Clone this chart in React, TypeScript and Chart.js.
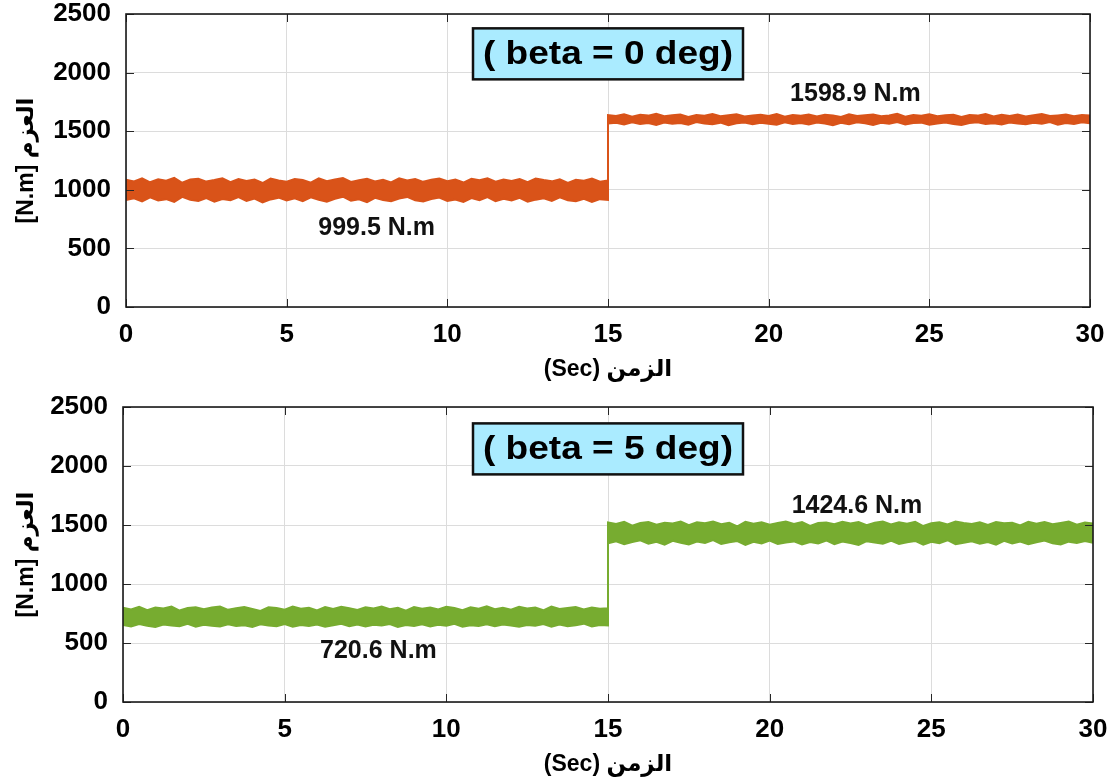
import React, { useEffect, useRef } from "react";
import { Chart, registerables } from "chart.js";

Chart.register(...registerables);

// ---------- data ----------
const xTickValues = [0, 5, 10, 15, 20, 25, 30];
const yTickValues = [0, 500, 1000, 1500, 2000, 2500];
const SAMPLE_STEP = 0.25; // seconds between read samples
const STEP_TIME = 15; // s, load step

// top plot (beta = 0 deg): upper / lower envelope of the noisy torque band
const topUpperBefore = [
  1085, 1072, 1098, 1064, 1090, 1078, 1101, 1060, 1088, 1095,
  1070, 1083, 1099, 1066, 1092, 1075, 1087, 1058, 1096, 1080,
  1069, 1093, 1084, 1061, 1097, 1074, 1089, 1100, 1067, 1082,
  1094, 1071, 1086, 1063, 1098, 1079, 1091, 1068, 1085, 1096,
  1073, 1088, 1062, 1094, 1081, 1099, 1070, 1087, 1076, 1092,
  1065, 1097, 1083, 1072, 1090, 1059, 1086, 1078, 1095, 1069,
  1080,
];
const topLowerBefore = [
  912, 928, 901, 935, 908, 920, 897, 940, 915, 904,
  930, 899, 922, 911, 938, 906, 925, 893, 918, 933,
  909, 927, 902, 936, 914, 898, 924, 941, 907, 919,
  895, 931, 913, 903, 926, 939, 910, 900, 921, 934,
  905, 917, 896, 929, 912, 937, 902, 923, 908, 932,
  899, 916, 927, 906, 935, 911, 903, 924, 897, 920,
  914,
];
const topUpperAfter = [
  1638, 1629, 1645, 1624, 1640, 1633, 1648, 1627, 1636, 1642,
  1622, 1639, 1631, 1646, 1628, 1637, 1644, 1625, 1634, 1641,
  1630, 1647, 1623, 1638, 1632, 1643, 1626, 1640, 1635, 1621,
  1645, 1629, 1637, 1642, 1627, 1634, 1648, 1624, 1639, 1631,
  1644, 1628, 1636, 1641, 1622, 1638, 1633, 1646, 1626, 1640,
  1630, 1643, 1625, 1637, 1647, 1629, 1635, 1642, 1627, 1639,
  1633,
];
const topLowerAfter = [
  1565, 1572, 1558, 1576, 1561, 1569, 1553, 1574, 1563, 1570,
  1556, 1578, 1566, 1560, 1573, 1552, 1568, 1575, 1559, 1571,
  1564, 1555, 1577, 1562, 1570, 1557, 1574, 1566, 1551, 1572,
  1560, 1576, 1567, 1554, 1571, 1563, 1578, 1558, 1569, 1573,
  1556, 1565, 1575, 1561, 1552, 1570, 1577, 1562, 1568, 1557,
  1574, 1566, 1559, 1572, 1563, 1579, 1555, 1569, 1561, 1576,
  1567,
];

// bottom plot (beta = 5 deg)
const bottomUpperBefore = [
  798, 785, 806, 779, 801, 792, 809, 775, 796, 803,
  787, 800, 810, 781, 794, 805, 789, 772, 802, 797,
  783, 808, 791, 799, 776, 804, 788, 807, 795, 780,
  802, 793, 809, 786, 798, 774, 805, 790, 801, 784,
  807, 796, 778, 803, 791, 810, 786, 799, 782, 806,
  793, 801, 777, 808, 789, 797, 804, 785, 800, 791,
  795,
];
const bottomLowerBefore = [
  652, 641, 660, 646, 636, 657, 649, 643, 662, 638,
  655, 647, 640, 659, 644, 651, 635, 658, 648, 642,
  661, 639, 653, 645, 657, 637, 650, 663, 643, 656,
  641, 654, 648, 660, 636, 652, 645, 659, 640, 655,
  647, 662, 638, 651, 644, 658, 642, 656, 649, 637,
  653, 646, 661, 639, 657, 643, 650, 664, 641, 652,
  648,
];
const bottomUpperAfter = [
  1522, 1508, 1528, 1495, 1517, 1526, 1503, 1520, 1512, 1529,
  1499, 1524, 1514, 1530, 1506, 1519, 1488, 1527, 1511, 1523,
  1502, 1518, 1529, 1509, 1525, 1493, 1516, 1521, 1507, 1528,
  1513, 1526, 1498, 1519, 1530, 1505, 1523, 1511, 1527, 1491,
  1515, 1524, 1504, 1529, 1517, 1508, 1522, 1500, 1526, 1514,
  1520, 1496, 1528, 1510, 1525, 1506, 1518, 1529, 1502, 1521,
  1512,
];
const bottomLowerAfter = [
  1345, 1362, 1338, 1355, 1370, 1341, 1358, 1334, 1366, 1349,
  1336, 1359, 1347, 1372, 1340, 1353, 1364, 1332, 1357, 1343,
  1368, 1339, 1351, 1361, 1335, 1356, 1344, 1369, 1337, 1360,
  1348, 1331, 1363, 1352, 1342, 1367, 1339, 1354, 1365, 1333,
  1358, 1346, 1371, 1338, 1350, 1362, 1341, 1356, 1334, 1366,
  1343, 1360, 1337, 1353, 1369, 1345, 1335, 1359, 1348, 1364,
  1350,
];

const topTitle = "( beta = 0 deg)";
const bottomTitle = "( beta = 5 deg)";
const topLabels = ["999.5 N.m", "1598.9 N.m"];
const bottomLabels = ["720.6 N.m", "1424.6 N.m"];
const xAxisTitle = "(Sec) الزمن";
const yAxisTitle = "[N.m] العزم";

// ---------- styling ----------
const FONT = "'Liberation Sans', Arial, 'DejaVu Sans', sans-serif";
const W = 1113;
const H = 391;

type Pt = { x: number; y: number };
function toPoints(before: number[], after: number[]): Pt[] {
  return [
    ...before.map((v, i) => ({ x: i * SAMPLE_STEP, y: v })),
    ...after.map((v, i) => ({ x: STEP_TIME + i * SAMPLE_STEP, y: v })),
  ];
}

type Spec = {
  upper: Pt[];
  lower: Pt[];
  color: string;
  title: string;
  labels: string[];
  labelPos: { x: number; y: number }[];
  boxPos: { x: number; y: number };
  yAxisWidth: number;
  xAxisHeight: number;
  padTop: number;
  padRight: number;
  xTitlePadBottom: number;
};

const decorPlugin = {
  id: "decor",
  afterDatasetsDraw(chart: any, _a: any, opts: any) {
    const { ctx, chartArea: ca, scales } = chart;
    const spec: Spec = opts.spec;
    ctx.save();
    // inner tick marks
    ctx.strokeStyle = "#262626";
    ctx.lineWidth = 1;
    const tl = 8;
    xTickValues.forEach((v) => {
      const px = Math.round(scales.x.getPixelForValue(v)) + 0.5;
      ctx.beginPath();
      ctx.moveTo(px, ca.bottom);
      ctx.lineTo(px, ca.bottom - tl);
      ctx.moveTo(px, ca.top);
      ctx.lineTo(px, ca.top + tl);
      ctx.stroke();
    });
    yTickValues.forEach((v) => {
      const py = Math.round(scales.y.getPixelForValue(v)) + 0.5;
      ctx.beginPath();
      ctx.moveTo(ca.left, py);
      ctx.lineTo(ca.left + tl, py);
      ctx.moveTo(ca.right, py);
      ctx.lineTo(ca.right - tl, py);
      ctx.stroke();
    });
    // frame
    ctx.lineWidth = 1.6;
    ctx.strokeStyle = "#1a1a1a";
    ctx.strokeRect(ca.left, ca.top, ca.right - ca.left, ca.bottom - ca.top);

    // value labels
    ctx.fillStyle = "#111";
    ctx.textAlign = "center";
    ctx.textBaseline = "middle";
    ctx.font = `bold 25px ${FONT}`;
    spec.labels.forEach((t, i) => {
      const p = spec.labelPos[i];
      ctx.fillText(t, scales.x.getPixelForValue(p.x), scales.y.getPixelForValue(p.y));
    });

    // title box
    const bx = scales.x.getPixelForValue(spec.boxPos.x);
    const by = scales.y.getPixelForValue(spec.boxPos.y);
    const bw = 270;
    const bh = 51;
    ctx.fillStyle = "#AAEBFF";
    ctx.fillRect(bx - bw / 2, by - bh / 2, bw, bh);
    ctx.lineWidth = 2.5;
    ctx.strokeStyle = "#111";
    ctx.strokeRect(bx - bw / 2, by - bh / 2, bw, bh);
    ctx.font = `bold 34px ${FONT}`;
    const w = ctx.measureText(spec.title).width;
    const sx = 250 / w;
    ctx.translate(bx, by + 1);
    ctx.scale(sx, 1);
    ctx.fillStyle = "#000";
    ctx.fillText(spec.title, 0, 0);
    ctx.restore();
  },
};

function makeConfig(spec: Spec): any {
  const tickFont = { size: 26, weight: "bold", family: FONT, lineHeight: 1.1 };
  const titleFont = { size: 23, weight: "bold", family: FONT };
  return {
    type: "line",
    data: {
      datasets: [
        {
          data: spec.upper,
          borderColor: spec.color,
          backgroundColor: spec.color,
          borderWidth: 2,
          pointRadius: 0,
          fill: false,
          tension: 0,
        },
        {
          data: spec.lower,
          borderColor: spec.color,
          backgroundColor: spec.color,
          borderWidth: 2,
          pointRadius: 0,
          fill: "-1",
          tension: 0,
        },
      ],
    },
    options: {
      animation: false,
      responsive: false,
      events: [],
      layout: { padding: { top: spec.padTop, right: spec.padRight, left: 0, bottom: 0 } },
      plugins: {
        legend: { display: false },
        tooltip: { enabled: false },
        decor: { spec },
      },
      scales: {
        x: {
          type: "linear",
          min: 0,
          max: 30,
          afterBuildTicks: (s: any) => {
            s.ticks = xTickValues.map((v) => ({ value: v }));
          },
          afterFit: (s: any) => {
            s.height = spec.xAxisHeight;
            s.paddingLeft = 0;
            s.paddingRight = 0;
          },
          ticks: {
            font: tickFont,
            color: "#000",
            padding: 14,
            maxRotation: 0,
            autoSkip: false,
            callback: (v: any) => String(v),
          },
          grid: { color: "#dcdcdc", lineWidth: 1, drawTicks: false },
          border: { display: false },
          title: {
            display: true,
            text: xAxisTitle,
            font: titleFont,
            color: "#000",
            padding: { top: 0, bottom: spec.xTitlePadBottom },
          },
        },
        y: {
          type: "linear",
          min: 0,
          max: 2500,
          afterBuildTicks: (s: any) => {
            s.ticks = yTickValues.map((v) => ({ value: v }));
          },
          afterFit: (s: any) => {
            s.width = spec.yAxisWidth;
            s.paddingTop = 0;
            s.paddingBottom = 0;
          },
          ticks: {
            font: tickFont,
            color: "#000",
            padding: 15,
            autoSkip: false,
            callback: (v: any) => String(v),
          },
          grid: { color: "#dcdcdc", lineWidth: 1, drawTicks: false },
          border: { display: false },
          title: {
            display: true,
            text: yAxisTitle,
            font: titleFont,
            color: "#000",
            padding: { top: 13, bottom: 0 },
          },
        },
      },
    },
    plugins: [decorPlugin],
  };
}

const topSpec: Spec = {
  upper: toPoints(topUpperBefore, topUpperAfter),
  lower: toPoints(topLowerBefore, topLowerAfter),
  color: "#D95319",
  title: topTitle,
  labels: topLabels,
  labelPos: [
    { x: 7.8, y: 675 },
    { x: 22.7, y: 1815 },
  ],
  boxPos: { x: 15, y: 2160 },
  yAxisWidth: 126,
  xAxisHeight: 84,
  padTop: 14,
  padRight: 23,
  xTitlePadBottom: 8,
};

const bottomSpec: Spec = {
  upper: toPoints(bottomUpperBefore, bottomUpperAfter),
  lower: toPoints(bottomLowerBefore, bottomLowerAfter),
  color: "#77AC30",
  title: bottomTitle,
  labels: bottomLabels,
  labelPos: [
    { x: 7.9, y: 432 },
    { x: 22.7, y: 1660 },
  ],
  boxPos: { x: 15, y: 2145 },
  yAxisWidth: 123,
  xAxisHeight: 80,
  padTop: 16,
  padRight: 20,
  xTitlePadBottom: 4,
};

function Panel({ spec, top }: { spec: Spec; top: number }) {
  const ref = useRef<HTMLCanvasElement | null>(null);
  useEffect(() => {
    if (!ref.current) return;
    const chart = new Chart(ref.current, makeConfig(spec));
    return () => chart.destroy();
  }, [spec]);
  return (
    <canvas
      ref={ref}
      width={W}
      height={H}
      style={{ position: "absolute", left: 0, top, width: W, height: H, display: "block" }}
    />
  );
}

export default function App() {
  return (
    <div style={{ position: "absolute", left: 0, top: 0, width: W, height: 782, background: "#fff" }}>
      <Panel spec={topSpec} top={0} />
      <Panel spec={bottomSpec} top={H} />
    </div>
  );
}
